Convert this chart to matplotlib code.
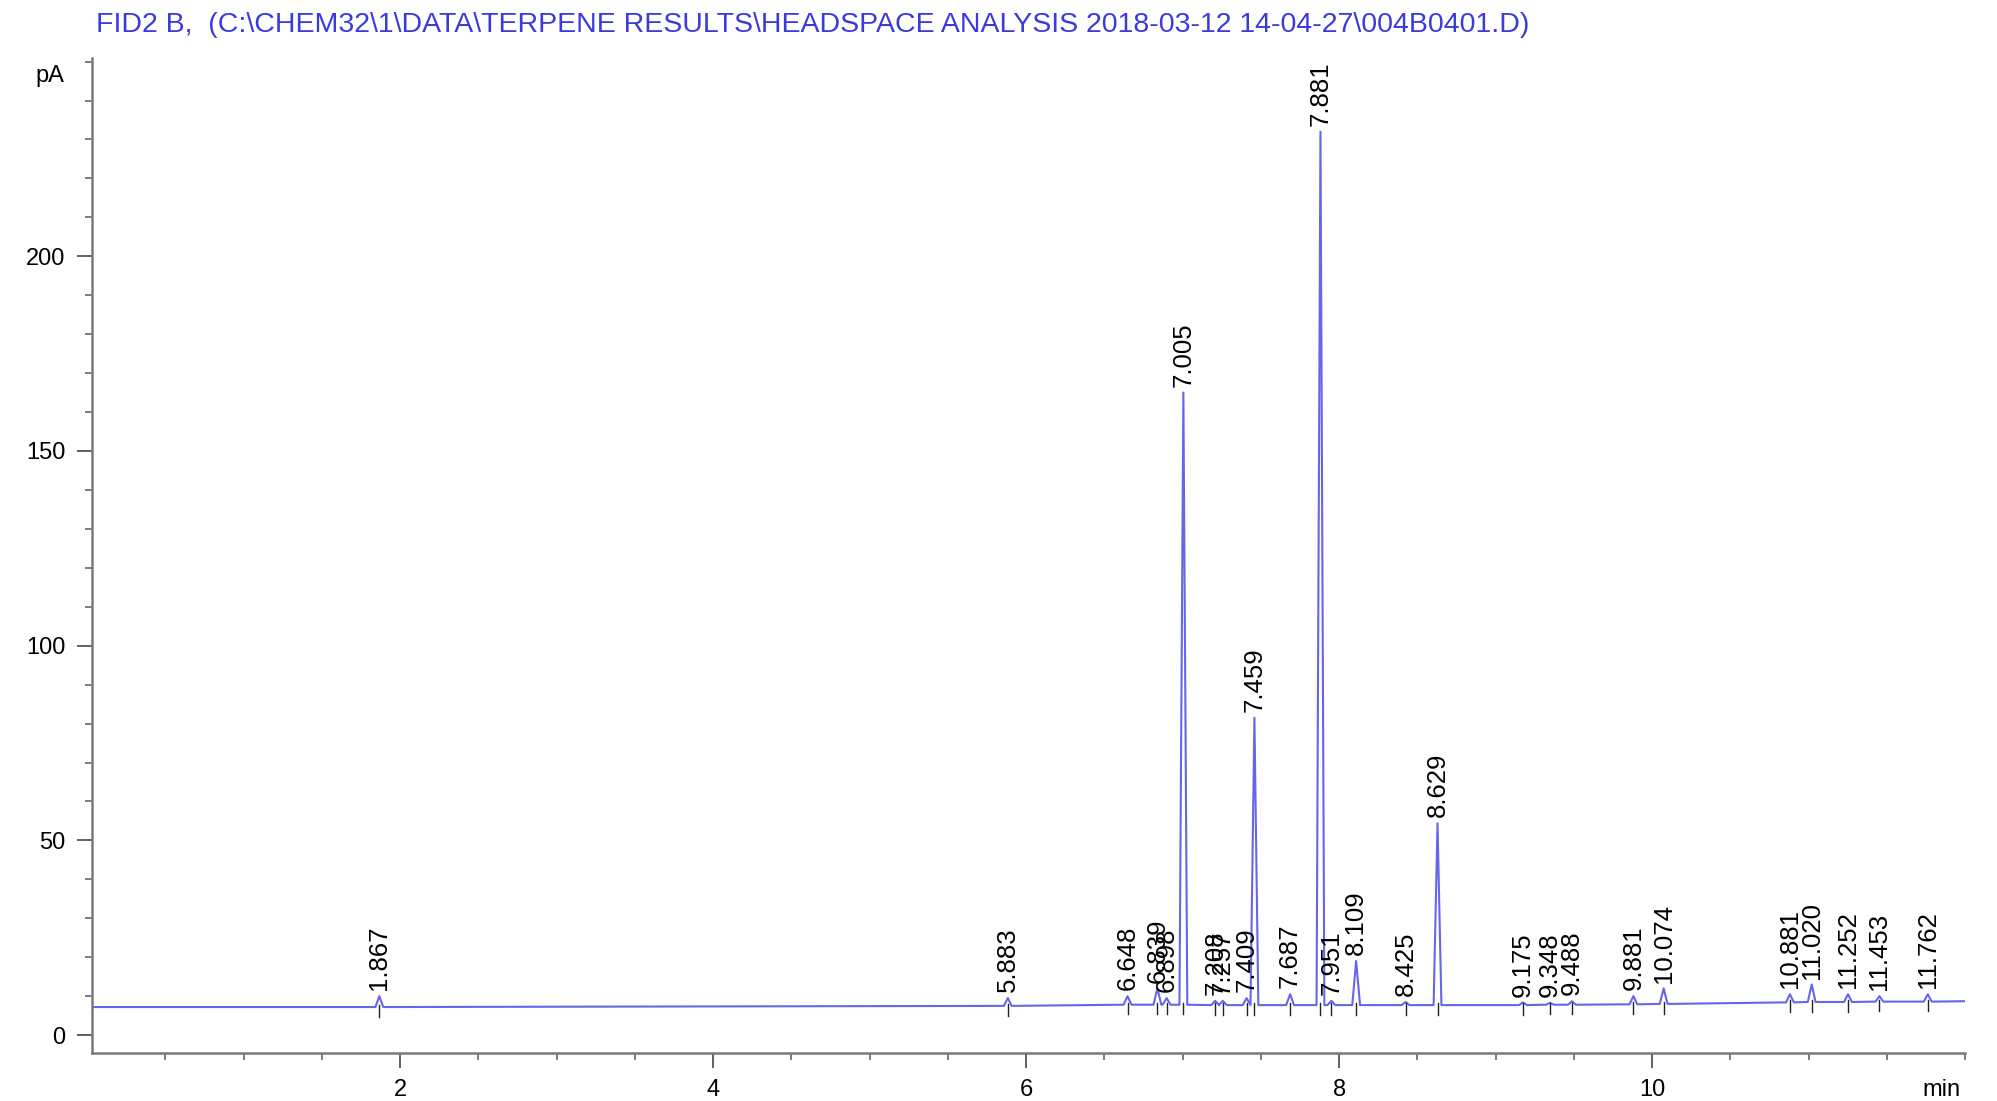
# FID chromatogram - terpene headspace run

import numpy as np
import matplotlib.pyplot as plt
from matplotlib.ticker import MultipleLocator

title = r"FID2 B,  (C:\CHEM32\1\DATA\TERPENE RESULTS\HEADSPACE ANALYSIS 2018-03-12 14-04-27\004B0401.D)"

# retention times (min), apex heights (pA), local baseline (pA)
ret_times = [1.867, 5.883, 6.648, 6.839, 6.898, 7.005, 7.208, 7.257, 7.409, 7.459,
             7.687, 7.881, 7.951, 8.109, 8.425, 8.629, 9.175, 9.348, 9.488, 9.881,
             10.074, 10.881, 11.020, 11.252, 11.453, 11.762]
heights = [10.0, 9.5, 10.0, 12.0, 9.5, 165.0, 8.8, 8.8, 9.5, 81.5,
           10.5, 232.0, 8.8, 19.0, 8.5, 54.4, 8.4, 8.3, 8.7, 10.0,
           12.0, 10.5, 13.0, 10.5, 10.0, 10.5]
baseline = [7.2, 7.5, 7.8, 7.8, 7.8, 7.8, 7.7, 7.7, 7.7, 7.7,
            7.7, 7.7, 7.7, 7.7, 7.7, 7.7, 7.7, 7.8, 7.8, 7.9,
            8.0, 8.4, 8.5, 8.5, 8.6, 8.6]
run_start, run_end = 0.03, 12.0
start_level, end_level = 7.2, 8.7

half_w = 0.025

# build the trace as a polyline: base - apex - base for every peak
tx = [run_start]
ty = [start_level]
for rt, h, b in zip(ret_times, heights, baseline):
    tx += [rt - half_w, rt, rt + half_w]
    ty += [b, h, b]
tx.append(run_end)
ty.append(end_level)

plt.rcParams['font.family'] = ['Liberation Sans', 'DejaVu Sans']

fig = plt.figure(figsize=(19.97, 11.01), dpi=100)
ax = fig.add_axes([0.046, 0.0436, 0.938, 0.904])

ax.plot(tx, ty, color='#6666ea', lw=1.5)

# integration markers
for rt, b in zip(ret_times, baseline):
    ax.plot([rt, rt], [b - 2.5, b + 0.5], color='#222222', lw=1.0)

for rt, h in zip(ret_times, heights):
    ax.text(rt, h + 1.5, f"{rt:.3f}", rotation=90, ha='center', va='bottom',
            fontsize=18.5)

ax.set_xlim(run_start, run_end)
ax.set_ylim(-4.6, 251)

for s in ['top', 'right']:
    ax.spines[s].set_visible(False)
for s in ['left', 'bottom']:
    ax.spines[s].set_color('#7a7a7a')
    ax.spines[s].set_linewidth(1.8)

ax.set_xticks([2, 4, 6, 8, 10])
ax.xaxis.set_minor_locator(MultipleLocator(0.5))
ax.set_yticks([0, 50, 100, 150, 200])
ax.yaxis.set_minor_locator(MultipleLocator(10))
ax.tick_params(which='major', length=11, width=1.3, color='#555555', labelsize=17, pad=8)
ax.tick_params(which='minor', length=5, width=1.2, color='#666666')

fig.text(0.048, 1 - 25 / 1101, title, color='#3b3bdd', fontsize=20.5, va='center', ha='left')
fig.text(64 / 1997, 1 - 76 / 1101, "pA", fontsize=17, ha='right', va='center')
fig.text(1922 / 1997, 1 - 1090 / 1101, "min", fontsize=17, ha='left', va='center')

fig.savefig('out.png', dpi=100)
